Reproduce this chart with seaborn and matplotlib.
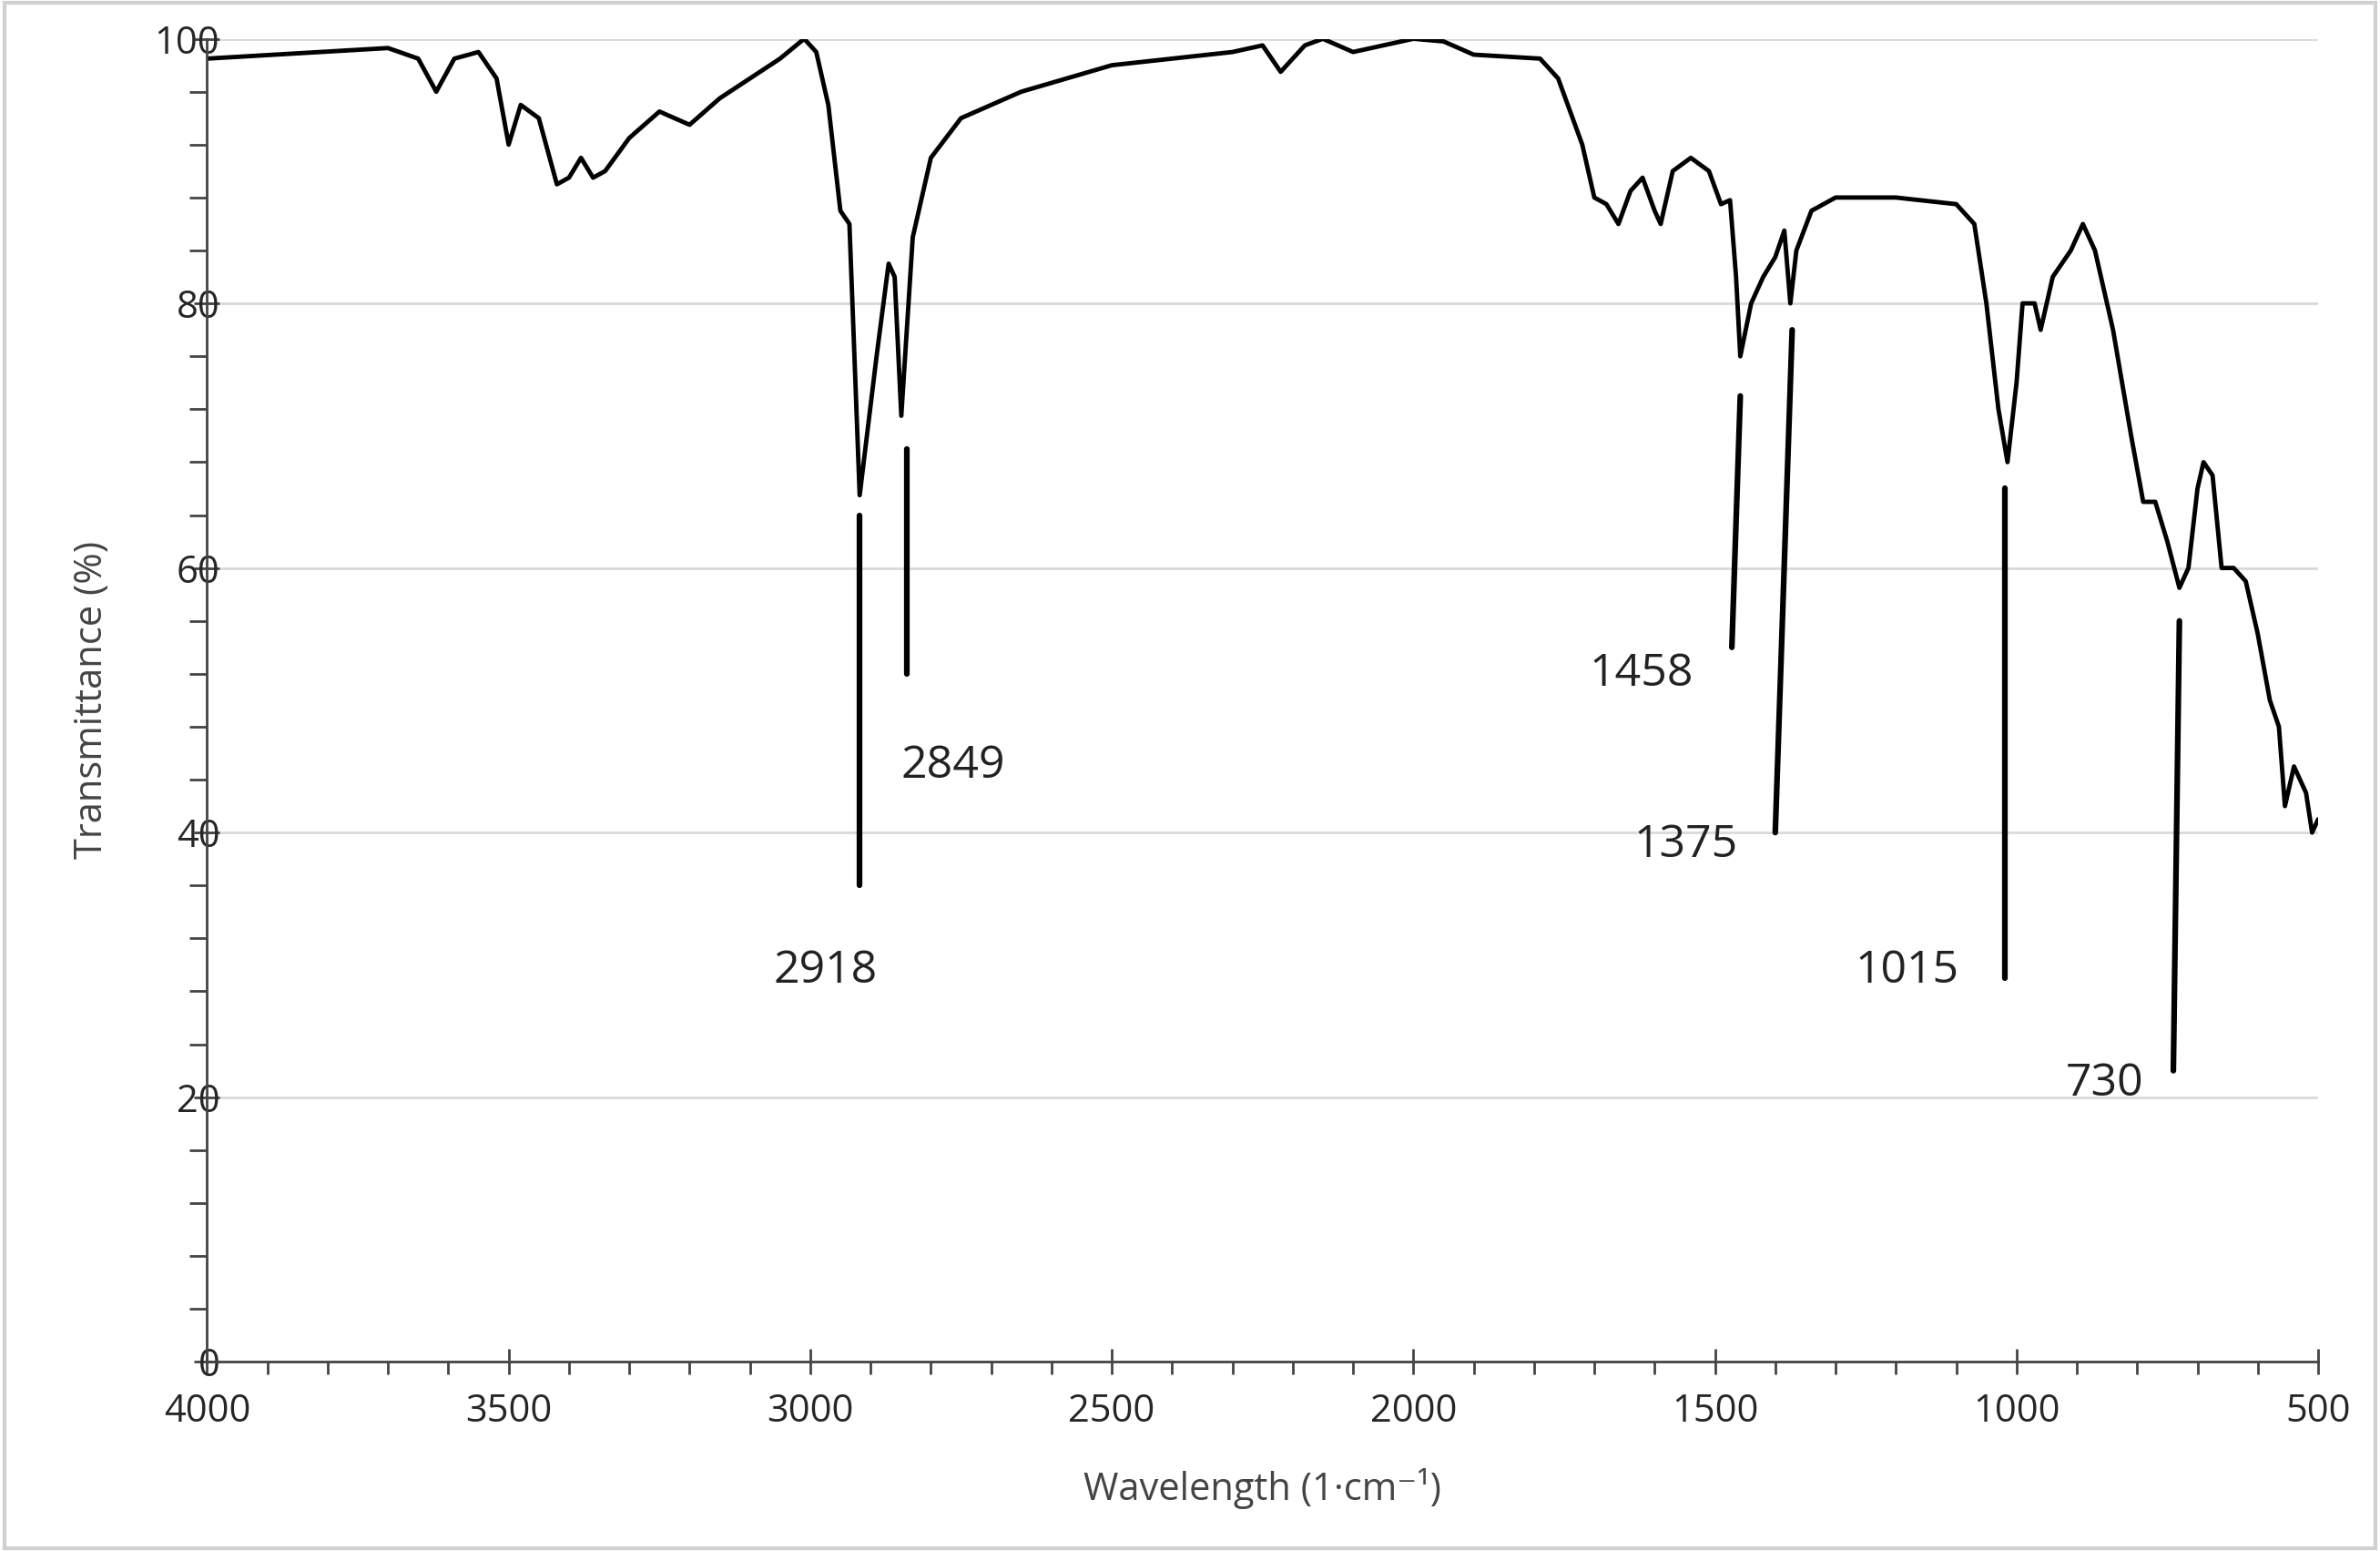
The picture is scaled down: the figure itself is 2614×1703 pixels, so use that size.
import numpy as np
import pandas as pd
import matplotlib
matplotlib.use("Agg")
import matplotlib.pyplot as plt
import seaborn as sns
from matplotlib.ticker import MultipleLocator

# --- Data ---
wavenumber = [4000, 3700, 3650, 3620, 3590, 3550, 3520, 3500, 3480, 3450, 3420, 3400, 3380,
              3360, 3340, 3300, 3250, 3200, 3150, 3050, 3010, 2990, 2970, 2950, 2935, 2918,
              2890, 2870, 2860, 2849, 2830, 2800, 2750, 2650, 2500, 2300, 2250, 2220, 2180,
              2150, 2100, 2050, 2000, 1950, 1900, 1790, 1760, 1720, 1700, 1680, 1660, 1640,
              1620, 1600, 1590, 1570, 1540, 1510, 1490, 1475, 1465, 1458, 1440, 1420, 1400,
              1385, 1375, 1365, 1340, 1300, 1200, 1100, 1070, 1050, 1030, 1015, 1000, 990,
              970, 960, 940, 910, 890, 870, 840, 810, 790, 770, 750, 730, 715, 700, 690, 675,
              660, 640, 620, 600, 580, 565, 555, 540, 520, 510, 500]
transmittance = [98.5, 99.3, 98.5, 96, 98.5, 99, 97, 92, 95, 94, 89, 89.5, 91,
                 89.5, 90, 92.5, 94.5, 93.5, 95.5, 98.5, 100, 99, 95, 87, 86, 65.5,
                 76, 83, 82, 71.5, 85, 91, 94, 96, 98, 99, 99.5, 97.5, 99.5,
                 100, 99, 99.5, 100, 99.8, 98.8, 98.5, 97, 92, 88, 87.5, 86, 88.5,
                 89.5, 87, 86, 90, 91, 90, 87.5, 87.8, 82, 76, 80, 82, 83.5,
                 85.5, 80, 84, 87, 88, 88, 87.5, 86, 80, 72, 68, 74, 80,
                 80, 78, 82, 84, 86, 84, 78, 70, 65, 65, 62, 58.5, 60, 66, 68, 67,
                 60, 60, 59, 55, 50, 48, 42, 45, 43, 40, 41]

# peak labels and their leader lines (in data units)
peak_labels = ["2918", "2849", "1458", "1375", "1015", "730"]
line_x0 = [2918, 2840, 1458, 1372, 1020, 730]
line_y0 = [64, 69, 73, 78, 66, 56]
line_x1 = [2918, 2840, 1472, 1400, 1020, 740]
line_y1 = [36, 52, 54, 40, 29, 22]
text_x = [2975, 2850, 1535, 1462, 1095, 790]
text_y = [29.5, 45, 52, 39, 29.5, 21]
text_ha = ["center", "left", "right", "right", "right", "right"]

df = pd.DataFrame({"wn": wavenumber, "T": transmittance})

sns.set_style("white")
plt.rcParams['font.family'] = ['Open Sans', 'DejaVu Sans']

fig = plt.figure(figsize=(26.14, 17.03), dpi=100)
ax = fig.add_axes([0.087, 0.122, 0.887, 0.853])

sns.lineplot(data=df, x="wn", y="T", ax=ax, color="black", linewidth=3.5, sort=False)

for lab, x0, y0, x1, y1, tx, ty, ha in zip(peak_labels, line_x0, line_y0, line_x1, line_y1,
                                            text_x, text_y, text_ha):
    ax.plot([x0, x1], [y0, y1], color="black", linewidth=4.5)
    ax.text(tx, ty, lab, fontsize=36, ha=ha, va="center", color="#222222")

ax.set_xlim(4000, 500)
ax.set_ylim(0, 100)
ax.set_xticks([4000, 3500, 3000, 2500, 2000, 1500, 1000, 500])
ax.xaxis.set_minor_locator(MultipleLocator(100))
ax.set_yticks([0, 20, 40, 60, 80, 100])
ax.yaxis.set_minor_locator(MultipleLocator(4))
ax.grid(axis="y", which="major", color="#d9d9d9", linewidth=2)
ax.set_axisbelow(True)

for side in ["top", "right"]:
    ax.spines[side].set_visible(False)
for side in ["left", "bottom"]:
    ax.spines[side].set_color("#444444")
    ax.spines[side].set_linewidth(2)

ax.tick_params(axis="both", which="both", bottom=True, left=True, color="#444444")
ax.tick_params(axis="x", which="major", direction="inout", length=20, width=2, labelsize=30, pad=14)
ax.tick_params(axis="x", which="minor", direction="out", length=10, width=2)
ax.tick_params(axis="y", which="major", direction="inout", length=20, width=2, labelsize=30, pad=-20)
ax.tick_params(axis="y", which="minor", direction="out", length=14, width=2)

ax.set_xlabel("Wavelength (1·cm⁻¹)", fontsize=30, color="#444444", labelpad=30)
ax.set_ylabel("Transmittance (%)", fontsize=30, color="#444444", labelpad=34)

# light frame around the figure
fig.patches.append(plt.Rectangle((0.002, 0.002), 0.996, 0.996, transform=fig.transFigure,
                                 fill=False, edgecolor="#d0d0d0", linewidth=3))

fig.savefig("out.png", dpi=100)
